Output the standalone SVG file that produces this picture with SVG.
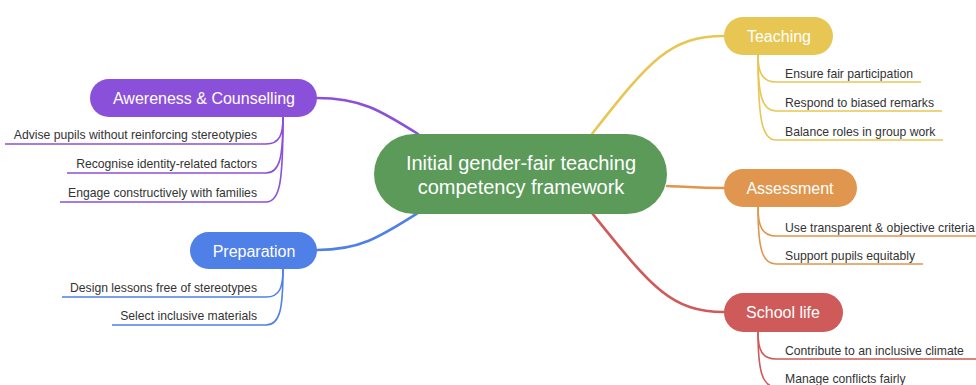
<svg xmlns="http://www.w3.org/2000/svg" width="976" height="385" viewBox="0 0 976 385">
  <style>
    .node-text { font-family: "Liberation Sans", Arial, sans-serif; font-size: 16px; fill: #ffffff; text-anchor: middle; }
    .root-text { font-family: "Liberation Sans", Arial, sans-serif; font-size: 20px; fill: #ffffff; text-anchor: middle; }
    .leaf { font-family: "Liberation Sans", Arial, sans-serif; font-size: 12.2px; fill: #333333; }
    .leaf-l { text-anchor: end; }
    .edge { fill: none; stroke-width: 2.6; stroke-linecap: round; }
    .sub { fill: none; stroke-width: 1.6; }
    .purple { stroke: #8B50D9; }
    .blue { stroke: #4F80E8; }
    .yellow { stroke: #E8C654; }
    .orange { stroke: #E0964E; }
    .red { stroke: #CE5A59; }
  </style>

  <!-- connectors -->
  <g id="connectors">
    <path class="edge purple" d="M 418 134 C 380 110, 360 98, 317 98"/>
    <path class="edge blue" d="M 418 213 C 380 237, 360 250, 317 250"/>
    <path class="edge yellow" d="M 592 134 C 650 60, 670 36, 724 36"/>
    <path class="edge orange" d="M 667 186 C 690 187, 700 188, 724 188"/>
    <path class="edge red" d="M 592 213 C 650 285, 670 312, 724 312"/>

    <!-- Teaching leaves -->
    <path class="sub yellow" d="M 758 55 C 758 72, 762 82, 776 82 L 921 82"/>
    <path class="sub yellow" d="M 758 55 C 758 95, 762 111, 776 111 L 942 111"/>
    <path class="sub yellow" d="M 758 55 C 758 120, 762 140, 776 140 L 943 140"/>

    <!-- Assessment leaves -->
    <path class="sub orange" d="M 758 207 C 758 226, 762 236, 776 236 L 976 236"/>
    <path class="sub orange" d="M 758 207 C 758 248, 762 264, 776 264 L 923 264"/>

    <!-- School life leaves -->
    <path class="sub red" d="M 758 332 C 758 350, 762 359, 776 359 L 976 359"/>
    <path class="sub red" d="M 758 332 C 758 370, 762 387, 776 387 L 960 387"/>

    <!-- Awareness leaves -->
    <path class="sub purple" d="M 283 117 C 283 134, 280 144, 266 144 L 5 144"/>
    <path class="sub purple" d="M 283 117 C 283 157, 280 173, 266 173 L 67 173"/>
    <path class="sub purple" d="M 283 117 C 283 182, 280 202, 266 202 L 60 202"/>

    <!-- Preparation leaves -->
    <path class="sub blue" d="M 283 269 C 283 287, 280 297, 266 297 L 62 297"/>
    <path class="sub blue" d="M 283 269 C 283 309, 280 325, 266 325 L 112 325"/>
  </g>

  <g id="root">
    <rect x="374" y="134" width="293" height="80" rx="40" fill="#5B9A59"/>
    <text class="root-text" x="521" y="170">Initial gender-fair teaching</text>
    <text class="root-text" x="521" y="194">competency framework</text>
  </g>

  <g id="teaching">
    <rect x="724" y="17" width="109" height="38" rx="19" fill="#E8C654"/>
    <text class="node-text" x="779" y="42">Teaching</text>
  </g>
  <g id="teaching-leaves">
    <text class="leaf" x="785" y="78">Ensure fair participation</text>
    <text class="leaf" x="785" y="107">Respond to biased remarks</text>
    <text class="leaf" x="785" y="136">Balance roles in group work</text>
  </g>

  <g id="assessment">
    <rect x="724" y="169" width="133" height="38" rx="19" fill="#E0964E"/>
    <text class="node-text" x="790" y="194">Assessment</text>
  </g>
  <g id="assessment-leaves">
    <text class="leaf" x="785" y="232">Use transparent &amp; objective criteria</text>
    <text class="leaf" x="785" y="260">Support pupils equitably</text>
  </g>

  <g id="school-life">
    <rect x="724" y="293" width="119" height="39" rx="19.5" fill="#CE5A59"/>
    <text class="node-text" x="783" y="318">School life</text>
  </g>
  <g id="school-life-leaves">
    <text class="leaf" x="785" y="355">Contribute to an inclusive climate</text>
    <text class="leaf" x="785" y="383">Manage conflicts fairly</text>
  </g>

  <g id="awareness">
    <rect x="90" y="79" width="227" height="38" rx="19" fill="#8B50D9"/>
    <text class="node-text" x="204" y="104">Awereness &amp; Counselling</text>
  </g>
  <g id="awareness-leaves">
    <text class="leaf leaf-l" x="257" y="139">Advise pupils without reinforcing stereotypies</text>
    <text class="leaf leaf-l" x="257" y="168">Recognise identity-related factors</text>
    <text class="leaf leaf-l" x="257" y="197">Engage constructively with families</text>
  </g>

  <g id="preparation">
    <rect x="190" y="232" width="127" height="37" rx="18.5" fill="#4F80E8"/>
    <text class="node-text" x="254" y="257">Preparation</text>
  </g>
  <g id="preparation-leaves">
    <text class="leaf leaf-l" x="257" y="292">Design lessons free of stereotypes</text>
    <text class="leaf leaf-l" x="257" y="320">Select inclusive materials</text>
  </g>
</svg>
